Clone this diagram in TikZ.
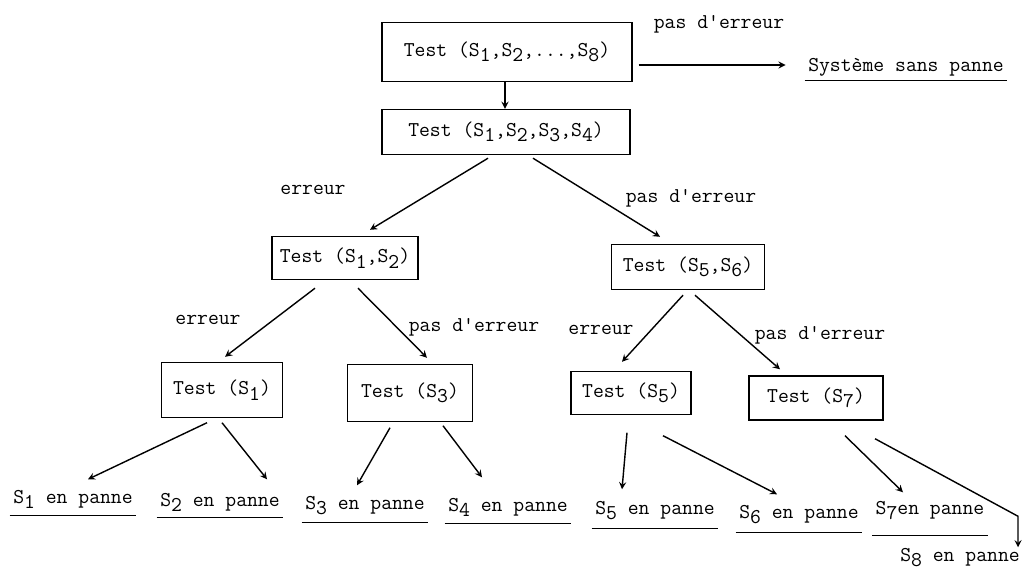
\documentclass[tikz,border=0pt]{standalone}
\usepackage{fontspec}
\usetikzlibrary{arrows, calc, positioning}
\newcommand{\Sidx}[1]{S\raisebox{-0.6ex}{#1}}

\begin{document}
\begin{tikzpicture}[x=0.2mm, y=-0.2mm, >=stealth, thick,
    every node/.style={font=\ttfamily\fontsize{12}{14}\selectfont},
    box/.style={draw, inner sep=2pt},
    lbl/.style={inner sep=0pt},
    leaf/.style={inner sep=0pt, text height=8pt, text depth=4pt}]
  \useasboundingbox (0,0) rectangle (1028,573);

  % tests
  \node[box, minimum width=50mm, minimum height=11.8mm] (tst18) at (507,52) {Test (\Sidx{1},\Sidx{2},...,\Sidx{8})};
  \node[box, minimum width=49.6mm, minimum height=9mm] (tst14) at (506,132) {Test (\Sidx{1},\Sidx{2},\Sidx{3},\Sidx{4})};
  \node[box, minimum width=29.2mm, minimum height=8.6mm] (tst12) at (345,258) {Test (\Sidx{1},\Sidx{2})};
  \node[box, minimum width=30.6mm, minimum height=9mm] (tst56) at (688,267) {Test (\Sidx{5},\Sidx{6})};
  \node[box, minimum width=24.2mm, minimum height=11mm] (tst1) at (222,390) {Test (\Sidx{1})};
  \node[box, minimum width=25mm, minimum height=11.4mm] (tst3) at (410,393) {Test (\Sidx{3})};
  \node[box, minimum width=24mm, minimum height=8.6mm] (tst5) at (631,393) {Test (\Sidx{5})};
  \node[box, minimum width=26.8mm, minimum height=8.8mm] (tst7) at (816,398) {Test (\Sidx{7})};

  % results
  \node[leaf] (ok) at (906,68) {Système sans panne};
  \node[leaf] (s1) at (73,500) {\Sidx{1} en panne};
  \node[leaf] (s2) at (220,503) {\Sidx{2} en panne};
  \node[leaf] (s3) at (365,506) {\Sidx{3} en panne};
  \node[leaf] (s4) at (508,508) {\Sidx{4} en panne};
  \node[leaf] (s5) at (655,511) {\Sidx{5} en panne};
  \node[leaf] (s6) at (799,515) {\Sidx{6} en panne};
  \node[leaf] (s7) at (930,511) {\Sidx{7}en panne};
  \node[leaf] (s8) at (960,558) {\Sidx{8} en panne};

  \foreach \n/\d in {ok/1, s1/4.5, s2/3.5, s3/5.5, s4/4.5, s5/6.5, s6/6.5, s7/13.5}
    \draw[semithick] ($(\n.south west)+(-3,\d)$) -- ($(\n.south east)+(3,\d)$);

  % labels
  \node[lbl] (lok) at (719,24) {pas d'erreur};
  \node[lbl] (le1) at (313,190) {erreur};
  \node[lbl] (lp1) at (691,198) {pas d'erreur};
  \node[lbl] (le2) at (208,320) {erreur};
  \node[lbl] (lp2) at (474,327) {pas d'erreur};
  \node[lbl] (le3) at (601,330) {erreur};
  \node[lbl] (lp3) at (820,335) {pas d'erreur};

  % branches
  \draw[->] ($(tst18.east |- ok)+(6,-3)$) -- ($(ok.west)+(-22,-3)$);
  \draw[->] ($(tst18.south)+(-2,0)$) -- ($(tst18.south |- tst14.north)+(-2,0)$);
  \draw[->] ($(tst14.south)+(-18,3)$) -- ($(tst12.north)+(25,-6)$);
  \draw[->] ($(tst14.south)+(27,3)$) -- ($(tst56.north)+(-28,-7)$);
  \draw[->] ($(tst12.south)+(-30,8)$) -- ($(tst1.north)+(3,-5)$);
  \draw[->] ($(tst12.south)+(13,8)$) -- ($(tst3.north)+(17,-6)$);
  \draw[->] ($(tst56.south)+(-5,5)$) -- ($(tst5.north)+(-9,-9)$);
  \draw[->] ($(tst56.south)+(7,5)$) -- ($(tst7.north)+(-36,-6)$);

  \draw[->] ($(tst1.south)+(-15,4.5)$) -- ($(s1.north)+(15,-9.5)$);
  \draw[->] ($(tst1.south)+(0,4.5)$) -- ($(s2.north)+(47,-12.5)$);
  \draw[->] ($(tst3.south)+(-20,5.5)$) -- ($(s3.north)+(-8,-9.5)$);
  \draw[->] ($(tst3.south)+(33,3.5)$) -- ($(s4.north)+(-26,-19.5)$);
  \draw[->] ($(tst5.south)+(-4,17.5)$) -- ($(s5.north)+(-33,-10.5)$);
  \draw[->] ($(tst5.south)+(32,20.5)$) -- ($(s6.north)+(-22,-9.5)$);
  \draw[->] ($(tst7.south)+(29,15)$) -- ($(s7.north)+(-27,-7.5)$);
  \draw[->] ($(tst7.south)+(59,18)$) -- ($(s8.north)+(58,-30.5)$) -- ($(s8.north)+(58,0.5)$);
\end{tikzpicture}
\end{document}
